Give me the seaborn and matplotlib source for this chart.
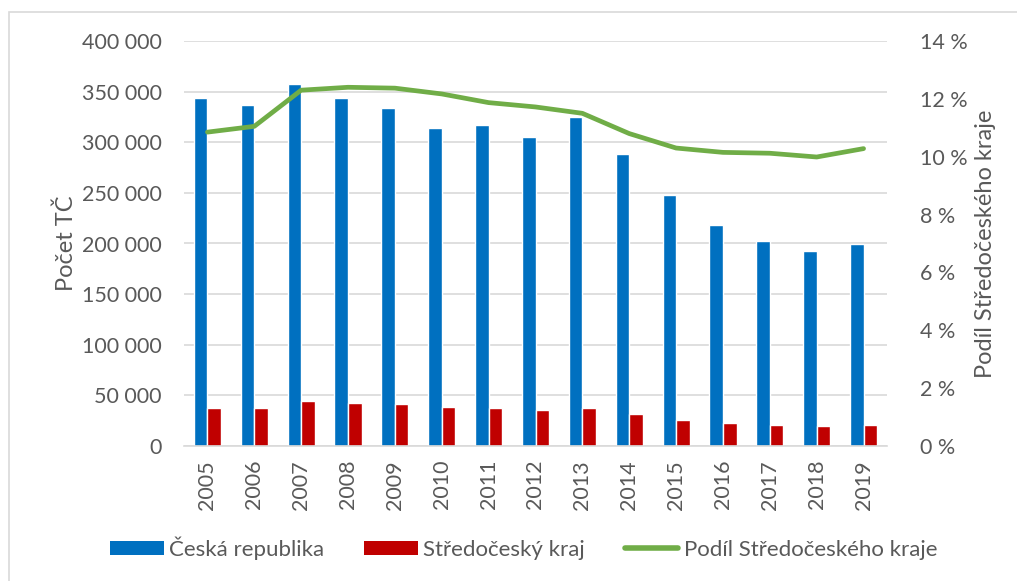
import numpy as np
import pandas as pd
import matplotlib
matplotlib.use("Agg")
import matplotlib.pyplot as plt
import seaborn as sns
from matplotlib.ticker import FuncFormatter
from matplotlib.patches import Patch, Rectangle
from matplotlib.lines import Line2D

years = ["2005", "2006", "2007", "2008", "2009", "2010", "2011", "2012",
         "2013", "2014", "2015", "2016", "2017", "2018", "2019"]
cr_values = [344000, 337000, 358000, 344000, 333500, 314000, 317500, 305000,
             325000, 288500, 248000, 218500, 202500, 192500, 199500]
sc_values = [37500, 37500, 44000, 42500, 41000, 38500, 37500, 35500,
             37500, 31500, 25500, 22500, 20500, 19500, 20500]
share_values = [10.85, 11.05, 12.3, 12.4, 12.37, 12.17, 11.87, 11.72,
                11.5, 10.8, 10.3, 10.15, 10.12, 9.99, 10.28]
series_names = ["Česká republika", "Středočeský kraj", "Podíl Středočeského kraje"]
left_label = "Počet TČ"
right_label = "Podíl Středočeského kraje"

sns.set_theme(style="white")
plt.rcParams["font.family"] = ["Lato", "DejaVu Sans"]

BLUE = "#0070c0"
RED = "#c00000"
GREEN = "#70ad47"
TXT = "#595959"
GRID = "#d9d9d9"
FS = 15.5

df = pd.DataFrame({
    "year": years * 2,
    "value": cr_values + sc_values,
    "series": [series_names[0]] * len(years) + [series_names[1]] * len(years),
})

fig = plt.figure(figsize=(10.17, 5.81), dpi=100)
ax = fig.add_axes([184 / 1017, 1 - 446 / 581, (887 - 184) / 1017, (446 - 41) / 581])

sns.barplot(data=df, x="year", y="value", hue="series", order=years,
            hue_order=series_names[:2], palette=[BLUE, RED], width=0.58,
            gap=0, dodge=True, saturation=1, ax=ax, legend=False)
ax.set_xlim(-0.5, len(years) - 0.5)
ax.set_ylim(0, 400000)
ax.set_yticks(np.arange(0, 400001, 50000))
ax.yaxis.set_major_formatter(FuncFormatter(lambda v, p: f"{int(v):,}".replace(",", " ")))
ax.grid(axis="y", color=GRID, linewidth=1.2)
ax.set_axisbelow(True)
for s in ["top", "right", "left"]:
    ax.spines[s].set_visible(False)
ax.spines["bottom"].set_color(GRID)
ax.spines["bottom"].set_linewidth(1.2)
ax.tick_params(axis="y", length=0, pad=16, labelsize=FS, labelcolor=TXT)
ax.tick_params(axis="x", length=0, pad=10, labelsize=FS, labelcolor=TXT, labelrotation=90)
ax.set_xlabel("")
ax.set_ylabel(left_label, fontsize=17, color=TXT)
ax.yaxis.set_label_coords((77 - 184) / 703, 0.5)

ax2 = ax.twinx()
sns.lineplot(x=np.arange(len(years)), y=share_values, color=GREEN, linewidth=3.4,
             ax=ax2, legend=False)
ax2.set_ylim(0, 14)
ax2.set_yticks(np.arange(0, 15, 2))
ax2.yaxis.set_major_formatter(FuncFormatter(lambda v, p: f"{int(v)} %"))
for s in ["top", "right", "left", "bottom"]:
    ax2.spines[s].set_visible(False)
ax2.tick_params(axis="y", length=0, pad=24, labelsize=FS, labelcolor=TXT)
ax2.set_ylabel(right_label, fontsize=17, color=TXT)
ax2.yaxis.set_label_coords((975 - 184) / 703, 0.5)
ax2.grid(False)

handles = [Patch(facecolor=BLUE, edgecolor="none"),
           Patch(facecolor=RED, edgecolor="none"),
           Line2D([0], [0], color=GREEN, linewidth=4)]
leg = fig.legend(handles, series_names, loc="center", bbox_to_anchor=(0.515, 1 - 548 / 581),
                 ncol=3, frameon=False, fontsize=16, handlelength=2.4, handleheight=0.65,
                 handletextpad=0.25, columnspacing=1.8)
for t in leg.get_texts():
    t.set_color(TXT)

fig.patches.append(Rectangle((9 / 1017, -0.01), 1.0, 1 - 12 / 581 + 0.01,
                             transform=fig.transFigure, fill=False,
                             edgecolor=GRID, linewidth=1.2))

fig.savefig("out.png", dpi=100)
